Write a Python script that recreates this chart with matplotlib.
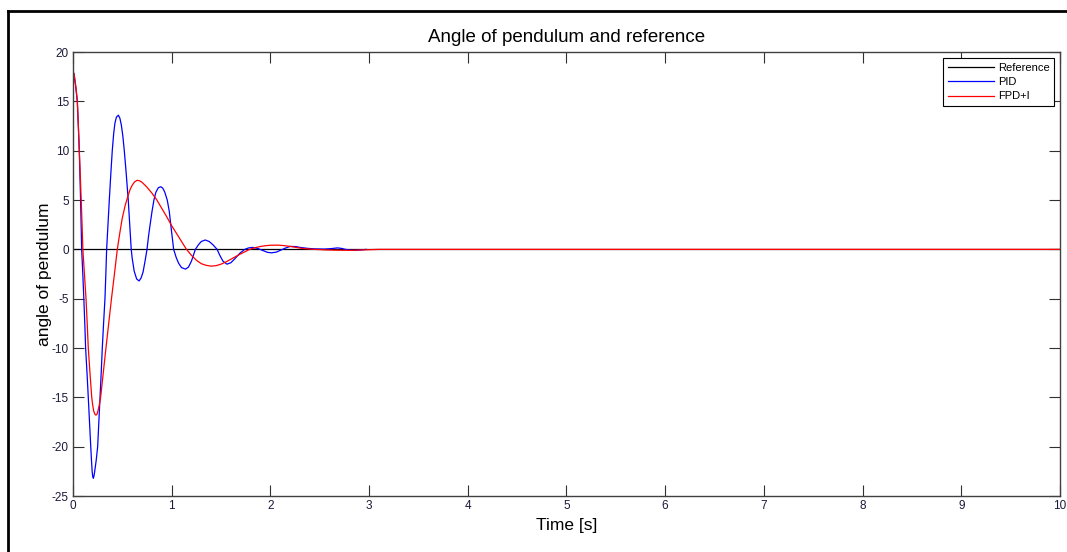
"""
Angle of pendulum vs. reference: PID and FPD+I step responses.
"""
import matplotlib
matplotlib.use("Agg")
import matplotlib.pyplot as plt
from matplotlib.lines import Line2D

plt.rcParams['font.family'] = ['Liberation Sans', 'DejaVu Sans']
plt.rcParams['axes.unicode_minus'] = False

# reference (setpoint)
ref_t = [0.0, 10.0]
ref_y = [0.0, 0.0]

# PID response
pid_t = [0.0, 0.01, 0.02, 0.03, 0.044, 0.054, 0.064, 0.077, 0.088, 0.10,
         0.11, 0.12, 0.128, 0.142, 0.155, 0.168, 0.18, 0.188, 0.195, 0.20,
         0.206, 0.212, 0.22, 0.235, 0.25, 0.262, 0.274, 0.286, 0.297, 0.31,
         0.324, 0.333, 0.341, 0.355, 0.368, 0.383, 0.398, 0.412, 0.425, 0.44,
         0.46, 0.475, 0.49, 0.505, 0.52, 0.54, 0.56, 0.575, 0.59, 0.60,
         0.62, 0.645, 0.67, 0.69, 0.71, 0.73, 0.75, 0.765, 0.78, 0.80,
         0.82, 0.84, 0.865, 0.89, 0.91, 0.93, 0.955, 0.975, 1.0, 1.02,
         1.045, 1.07, 1.10, 1.14, 1.17, 1.20, 1.22, 1.24, 1.27, 1.30,
         1.34, 1.38, 1.42, 1.46, 1.49, 1.52, 1.56, 1.60, 1.64, 1.69,
         1.74, 1.78, 1.82, 1.87, 1.92, 1.97, 2.01, 2.06, 2.10, 2.15,
         2.20, 2.26, 2.30, 2.38, 2.45, 2.55, 2.62, 2.68, 2.72, 2.76,
         2.85, 2.92, 2.97]
pid_y = [18.0, 17.8, 17.0, 16.3, 15.0, 12.6, 10.0, 5.0, 0.0, -2.6,
         -5.0, -7.6, -10.0, -12.5, -15.0, -17.6, -20.0, -21.5, -22.6, -23.0,
         -23.2, -23.0, -22.5, -21.4, -20.0, -17.5, -15.0, -12.5, -10.0, -7.5,
         -5.0, -2.5, 0.0, 2.6, 5.0, 7.6, 10.0, 11.7, 12.8, 13.4,
         13.6, 13.3, 12.6, 11.5, 10.0, 7.6, 5.0, 2.5, 0.0, -0.9,
         -2.2, -3.0, -3.2, -2.9, -2.3, -1.2, 0.0, 1.3, 2.4, 3.8,
         5.0, 5.8, 6.25, 6.35, 6.2, 5.8, 5.0, 3.9, 1.7, 0.0,
         -0.8, -1.4, -1.85, -2.0, -1.8, -1.2, -0.6, 0.0, 0.45, 0.8,
         0.95, 0.8, 0.45, 0.0, -0.65, -1.2, -1.5, -1.35, -0.95, -0.4,
         0.0, 0.15, 0.2, 0.1, -0.1, -0.3, -0.35, -0.28, -0.1, 0.12,
         0.3, 0.28, 0.2, 0.1, 0.05, 0.03, 0.08, 0.15, 0.1, 0.0,
         -0.1, -0.05, 0.0]

# FPD+I response
fpd_t = [0.0, 0.01, 0.02, 0.03, 0.044, 0.054, 0.064, 0.074, 0.083, 0.092,
         0.10, 0.116, 0.132, 0.144, 0.155, 0.172, 0.19, 0.20, 0.21, 0.222,
         0.233, 0.244, 0.255, 0.268, 0.28, 0.307, 0.334, 0.362, 0.39, 0.42,
         0.449, 0.475, 0.50, 0.53, 0.56, 0.58, 0.60, 0.625, 0.65, 0.675,
         0.70, 0.75, 0.80, 0.85, 0.90, 0.95, 1.0, 1.05, 1.10, 1.15,
         1.20, 1.25, 1.30, 1.35, 1.40, 1.45, 1.50, 1.55, 1.60, 1.65,
         1.70, 1.75, 1.79, 1.85, 1.90, 1.95, 2.0, 2.08, 2.14, 2.20,
         2.26, 2.32, 2.40, 2.45, 2.55, 2.65, 2.80, 2.95, 3.10, 10.0]
fpd_y = [18.0, 17.8, 17.2, 16.4, 15.0, 12.6, 10.0, 7.5, 5.0, 2.5,
         0.0, -2.5, -5.0, -7.5, -10.0, -12.5, -15.0, -15.8, -16.4, -16.7,
         -16.8, -16.7, -16.3, -15.7, -15.0, -12.5, -10.0, -7.5, -5.0, -2.5,
         0.0, 1.7, 3.2, 4.5, 5.5, 6.1, 6.5, 6.85, 7.0, 6.95,
         6.8, 6.3, 5.7, 5.0, 4.15, 3.3, 2.4, 1.6, 0.8, 0.0,
         -0.6, -1.1, -1.45, -1.62, -1.7, -1.65, -1.5, -1.27, -1.0, -0.72,
         -0.45, -0.2, 0.0, 0.18, 0.3, 0.37, 0.42, 0.43, 0.38, 0.3,
         0.2, 0.1, 0.03, 0.0, -0.05, -0.08, -0.1, -0.05, 0.0, 0.0]

xticks = list(range(0, 11))
yticks = list(range(-25, 21, 5))


def main():
    fig = plt.figure(figsize=(10.67, 5.52), dpi=100)
    ax = fig.add_axes([0.0684, 0.1014, 0.925, 0.8043])

    ax.plot(ref_t, ref_y, color='black', lw=0.9, label='Reference')
    ax.plot(pid_t, pid_y, color='#0000ff', lw=0.9, label='PID')
    ax.plot(fpd_t, fpd_y, color='#ff0000', lw=0.9, label='FPD+I')

    ax.set_xlim(0, 10)
    ax.set_ylim(-25, 20)
    ax.set_xticks(xticks)
    ax.set_yticks(yticks)
    ax.tick_params(direction='in', length=8, width=0.8, top=True, right=True,
                   labelsize=8.5, colors='#303030', labelcolor='#1a1a3a', pad=3)
    for s in ax.spines.values():
        s.set_color('#404040')
        s.set_linewidth(1.0)

    ax.set_title('Angle of pendulum and reference', fontsize=13.5, pad=7)
    ax.set_xlabel('Time [s]', fontsize=12.5, labelpad=4)
    ax.set_ylabel('angle of pendulum', fontsize=12.5, labelpad=0)

    leg = ax.legend(loc='upper right', fontsize=8, fancybox=False,
                    framealpha=1, edgecolor='black', handlelength=4.2,
                    borderaxespad=0.5, borderpad=0.45, labelspacing=0.4,
                    handletextpad=0.3)
    leg.get_frame().set_linewidth(0.8)

    # outer frame (left and top edges of the screenshot)
    fig.add_artist(Line2D([0.0075, 0.0075], [0.0, 0.980], color='black',
                          lw=2, transform=fig.transFigure))
    fig.add_artist(Line2D([0.0075, 1.0], [0.980, 0.980], color='black',
                          lw=2, transform=fig.transFigure))

    fig.savefig('out.png', dpi=100)
    plt.close(fig)


if __name__ == '__main__':
    main()
